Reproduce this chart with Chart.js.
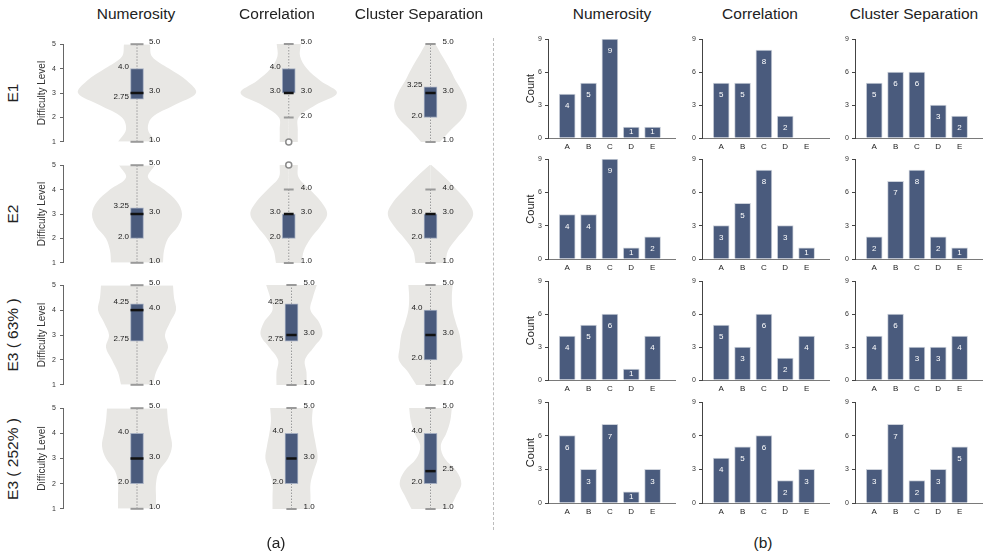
<!DOCTYPE html>
<html>
<head>
<meta charset="utf-8">
<script src="https://cdn.jsdelivr.net/npm/chart.js@4.4.1/dist/chart.umd.min.js"></script>
<style>
  html, body { margin: 0; padding: 0; background: #fff; }
  #page { position: relative; width: 987px; height: 559px; overflow: hidden;
          font-family: 'Liberation Sans', Arial, sans-serif; color: #222; }
  .panel { position: absolute; }
  .title { position: absolute; font-size: 15.5px; white-space: nowrap; transform: translate(-50%, -50%); }
  .row-label { position: absolute; font-size: 15.5px; white-space: nowrap;
               transform: translate(-50%, -50%) rotate(-90deg); }
  #sep { position: absolute; left: 493px; top: 38px; height: 492px; border-left: 1px dashed #bdbdbd; }
</style>
</head>
<body>
<div id="page"><div id="sep"></div></div>
<script>
// ---- data ----
const metrics = ['Numerosity', 'Correlation', 'Cluster Separation'];
const experiments = ['E1', 'E2', 'E3 ( 63% )', 'E3 ( 252% )'];
const answerLabels = ['A', 'B', 'C', 'D', 'E'];
const levelTicks = [1, 2, 3, 4, 5];
const countTicks = [0, 3, 6, 9];

// violin half-widths (density, arbitrary units) sampled at these difficulty levels
const violinLevels = [1, 1.5, 2, 2.5, 3, 3.5, 4, 4.5, 5];
const numerosityDensity = [
  [19, 11, 15, 37, 59, 50, 32, 15, 13],
  [26, 27, 31, 41, 45, 40, 27, 11, 18],
  [16, 19, 25, 31, 28, 33, 39, 37, 36],
  [19, 19, 19, 22, 31, 35, 33, 31, 30]
];
const correlationDensity = [
  [12, 12, 13, 35, 64, 42, 24, 15, 16],
  [17, 20, 29, 42, 51, 43, 28, 13, 12],
  [19, 19, 17, 28, 39, 35, 24, 27, 32],
  [24, 24, 24, 28, 33, 31, 28, 26, 27]
];
const clusterDensity = [
  [12, 26, 41, 46, 41, 32, 24, 15, 6],
  [19, 22, 33, 46, 54, 47, 33, 18, 1],
  [18, 28, 40, 39, 37, 32, 28, 27, 28],
  [24, 32, 39, 33, 18, 13, 20, 25, 27]
];

// box stats: [lower whisker, q1, median, q3, upper whisker]
const numerosityBox = [[1, 2.75, 3, 4, 5], [1, 2, 3, 3.25, 5], [1, 2.75, 4, 4.25, 5], [1, 2, 3, 4, 5]];
const correlationBox = [[2, 3, 3, 4, 5], [1, 2, 3, 3, 4], [1, 2.75, 3, 4.25, 5], [1, 2, 3, 4, 5]];
const clusterBox = [[1, 2, 3, 3.25, 5], [1, 2, 3, 3, 4], [1, 2, 3, 4, 5], [1, 2, 2.5, 4, 5]];
const numerosityOutliers = [[], [], [], []];
const correlationOutliers = [[1], [5], [], []];
const clusterOutliers = [[], [], [], []];

// answer counts A..E
const numerosityCounts = [[4, 5, 9, 1, 1], [4, 4, 9, 1, 2], [4, 5, 6, 1, 4], [6, 3, 7, 1, 3]];
const correlationCounts = [[5, 5, 8, 2, 0], [3, 5, 8, 3, 1], [5, 3, 6, 2, 4], [4, 5, 6, 2, 3]];
const clusterCounts = [[5, 6, 6, 3, 2], [2, 7, 8, 2, 1], [4, 6, 3, 3, 4], [3, 7, 2, 3, 5]];

// ---- layout / style ----
const FONT = "'Liberation Sans', Arial, sans-serif";
const NAVY = '#4a5b7d';
const VIOLIN = '#e8e7e4';
const BOX_W = 13;

const violinCenters = [137, 276, 415];
const violinTops = [44, 165, 285, 408];
const violinHeights = [98, 98, 100, 101];
const barAxisX = [548, 702, 855];
const barTops = [39, 159, 281, 402];
const barHeights = [99, 100, 99, 101];

Chart.defaults.font.family = FONT;
Chart.defaults.color = '#222';

const page = document.getElementById('page');

function addText(cls, text, x, y) {
  const d = document.createElement('div');
  d.className = cls;
  d.textContent = text;
  d.style.left = x + 'px';
  d.style.top = y + 'px';
  page.appendChild(d);
}

function addCanvas(left, top, w, h) {
  const d = document.createElement('div');
  d.className = 'panel';
  Object.assign(d.style, { left: left + 'px', top: top + 'px', width: w + 'px', height: h + 'px' });
  const c = document.createElement('canvas');
  d.appendChild(c);
  page.appendChild(d);
  return c;
}

const fmt = v => Number.isInteger(v * 2) ? v.toFixed(1) : v.toFixed(2);

const boxLabels = {
  id: 'boxLabels',
  afterDatasetsDraw(chart, args, opts) {
    const { ctx, scales: { x, y } } = chart;
    const [lo, q1, med, q3, hi] = opts.box;
    const cx = x.getPixelForValue(0);
    ctx.save();
    ctx.font = '8px ' + FONT;
    ctx.fillStyle = '#1a1a1a';
    ctx.textBaseline = 'middle';
    ctx.textAlign = 'right';
    [q1, q3].forEach(v => ctx.fillText(fmt(v), cx - 8, y.getPixelForValue(v) - 2));
    ctx.textAlign = 'left';
    [lo, med, hi].forEach(v => ctx.fillText(fmt(v), cx + 12, y.getPixelForValue(v) - 2));
    ctx.restore();
  }
};

const barValues = {
  id: 'barValues',
  afterDatasetsDraw(chart) {
    const { ctx } = chart;
    const meta = chart.getDatasetMeta(0);
    ctx.save();
    ctx.font = '8px ' + FONT;
    ctx.fillStyle = '#fff';
    ctx.textAlign = 'center';
    ctx.textBaseline = 'middle';
    meta.data.forEach((bar, i) => {
      const v = chart.data.datasets[0].data[i].y;
      if (!v) return;
      ctx.fillText(v, bar.x, Math.min(bar.y + 12, bar.base - 5.5));
    });
    ctx.restore();
  }
};

function seg(x0, x1, y0, y1, color, width, order, dash) {
  return {
    type: 'line', data: [{ x: x0, y: y0 }, { x: x1, y: y1 }],
    borderColor: color, borderWidth: width, borderDash: dash || [],
    pointRadius: 0, order: order, clip: false
  };
}

function violinChart(canvas, density, box, outliers, showAxis) {
  const [lo, q1, med, q3, hi] = box;
  const h = BOX_W / 2;
  const half = sign => ({
    type: 'line', indexAxis: 'y',
    data: violinLevels.map((l, i) => ({ x: sign * density[i], y: l })),
    backgroundColor: VIOLIN, borderWidth: 0, pointRadius: 0,
    fill: 'origin', tension: 0.35, order: 10
  });
  const datasets = [
    half(1), half(-1),
    seg(0, 0, lo, hi, '#9a9a9a', 1, 8, [1.5, 1.5]),
    seg(-h, h, lo, lo, '#9a9a9a', 2, 7),
    seg(-h, h, hi, hi, '#9a9a9a', 2, 7),
    {
      type: 'bar', data: [{ x: 0, y: [q1, q3] }], barThickness: BOX_W,
      backgroundColor: NAVY, borderColor: '#a3adc0', borderWidth: 1, borderSkipped: false, order: 6
    },
    seg(-h, h, med, med, '#111', 2.5, 5),
    {
      type: 'line', data: outliers.map(v => ({ x: 0, y: v })), showLine: false,
      pointRadius: 3, pointBorderWidth: 1.5, pointBorderColor: '#8c8c8c',
      pointBackgroundColor: '#fff', order: 4, clip: false
    }
  ];
  return new Chart(canvas, {
    type: 'line',
    data: { datasets },
    options: {
      responsive: true, maintainAspectRatio: false, animation: false,
      layout: { padding: { top: 8, bottom: 8, left: 0, right: 0 } },
      plugins: { legend: { display: false }, tooltip: { enabled: false }, boxLabels: { box } },
      scales: {
        x: { type: 'linear', min: -74, max: 74, offset: false, display: false },
        y: {
          type: 'linear', min: 1, max: 5, offset: false, display: showAxis,
          afterBuildTicks: s => { s.ticks = levelTicks.map(v => ({ value: v })); },
          afterFit: s => { s.width = 31; },
          ticks: { font: { size: 7 }, color: '#333', padding: 4 },
          grid: { drawOnChartArea: false, tickLength: 3, color: '#666' },
          border: { color: '#666' },
          title: { display: true, text: 'Difficulty Level', font: { size: 10 }, color: '#333' }
        }
      }
    },
    plugins: [boxLabels]
  });
}

function barChart(canvas, counts, showTitle) {
  return new Chart(canvas, {
    type: 'bar',
    data: {
      datasets: [{
        data: counts.map((v, i) => ({ x: i, y: v === 0 ? null : v })),
        barThickness: 16,
        backgroundColor: NAVY,
        borderColor: '#cdd2db',
        borderWidth: 1,
        borderSkipped: 'bottom'
      }]
    },
    options: {
      responsive: true, maintainAspectRatio: false, animation: false,
      layout: { padding: { top: 8, bottom: 0, left: 0, right: 8 } },
      plugins: { legend: { display: false }, tooltip: { enabled: false } },
      scales: {
        x: {
          type: 'linear', min: -0.9, max: 5.05, offset: false,
          afterBuildTicks: s => { s.ticks = answerLabels.map((c, i) => ({ value: i })); },
          afterFit: s => { s.height = 18; },
          ticks: { callback: v => answerLabels[v], font: { size: 8 }, color: '#222', padding: 4, maxRotation: 0, autoSkip: false },
          grid: { display: false, drawTicks: false },
          border: { color: '#7a7a7a' }
        },
        y: {
          type: 'linear', min: 0, max: 9,
          afterBuildTicks: s => { s.ticks = countTicks.map(v => ({ value: v })); },
          afterFit: s => { s.width = showTitle ? 28 : 14; },
          ticks: { font: { size: 7 }, color: '#333', padding: 3 },
          grid: { drawOnChartArea: false, tickLength: 3, color: '#444' },
          border: { color: '#444' },
          title: { display: showTitle, text: 'Count', font: { size: 11 }, color: '#222' }
        }
      }
    },
    plugins: [barValues]
  });
}

const densities = [numerosityDensity, correlationDensity, clusterDensity];
const boxes = [numerosityBox, correlationBox, clusterBox];
const outlierSets = [numerosityOutliers, correlationOutliers, clusterOutliers];
const countSets = [numerosityCounts, correlationCounts, clusterCounts];

experiments.forEach((exp, r) => {
  metrics.forEach((m, c) => {
    const yW = c === 0 ? 31 : 0;
    const cv = addCanvas(violinCenters[c] - 74 - yW, violinTops[r] - 8, yW + 148, violinHeights[r] + 16);
    violinChart(cv, densities[c][r], boxes[c][r], outlierSets[c][r], c === 0);

    const bW = c === 0 ? 28 : 14;
    const cb = addCanvas(barAxisX[c] - bW, barTops[r] - 8, bW + 127 + 8, barHeights[r] + 26);
    barChart(cb, countSets[c][r], c === 0);
  });
  addText('row-label', exp, 13, violinTops[r] + violinHeights[r] / 2);
});

const violinTitleX = [136, 277, 419];
const barTitleX = [612, 760, 914];
metrics.forEach((m, c) => {
  addText('title', m, violinTitleX[c], 14);
  addText('title', m, barTitleX[c], 14);
});
addText('title', '(a)', 276, 543);
addText('title', '(b)', 763, 543);
</script>
</body>
</html>
